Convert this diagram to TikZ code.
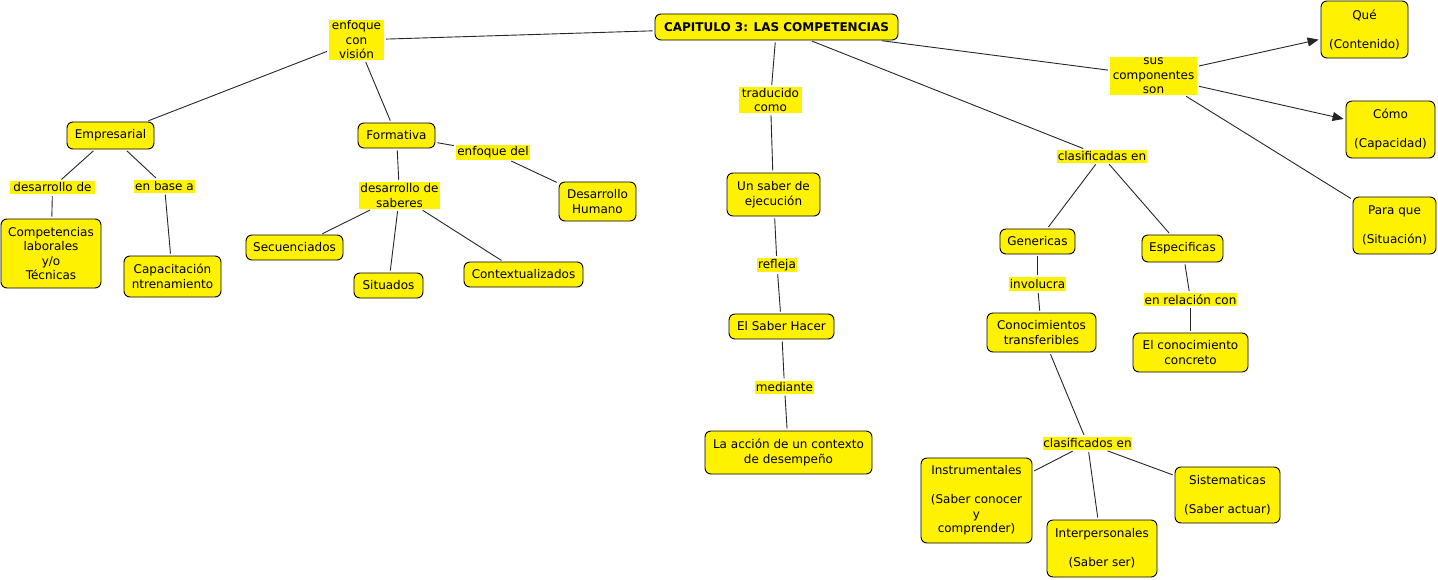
\documentclass[tikz,border=0pt]{standalone}
\usepackage{fontspec}
\setmainfont{DejaVu Sans}
\usetikzlibrary{arrows.meta}
\begin{document}
\begin{tikzpicture}[x=1pt,y=-1pt,
  txt/.style={font=\fontsize{12}{14.5}\selectfont, text=black, align=center, inner sep=0pt},
  concept/.style={txt, draw=black, fill=yellow, rounded corners=6pt, line width=0.9pt},
  lbl/.style={txt, fill=yellow},
  link/.style={draw=black!85, line width=0.9pt, shorten <=2pt, shorten >=2pt},
  arr/.style={link, -{Triangle[length=11pt,width=9pt]}}]
\useasboundingbox (0,0) rectangle (1438,579);
% concepts
\node[concept, minimum width=243pt, minimum height=26pt] (cap) at (776.5,27) {\textbf{CAPITULO 3: LAS COMPETENCIAS}};
\node[concept, minimum width=87pt, minimum height=27pt] (emp) at (110.5,135.5) {Empresarial};
\node[concept, minimum width=77pt, minimum height=25pt] (form) at (396.5,135.5) {Formativa};
\node[concept, minimum width=77pt, minimum height=39pt] (dh) at (597.5,201.5) {Desarrollo\\Humano};
\node[concept, minimum width=97pt, minimum height=25pt] (sec) at (294.5,247.5) {Secuenciados};
\node[concept, minimum width=69pt, minimum height=25pt] (sit) at (388.5,285.5) {Situados};
\node[concept, minimum width=119pt, minimum height=25pt] (ctx) at (523.5,274.5) {Contextualizados};
\node[concept, minimum width=100pt, minimum height=69pt] (comp) at (51,253.5) {Competencias\\laborales\\y/o\\Técnicas};
\node[concept, minimum width=97pt, minimum height=41pt] (capac) at (172.5,276.5) {Capacitación\\ntrenamiento};
\node[concept, minimum width=93pt, minimum height=43pt] (usab) at (773.5,194.5) {Un saber de\\ejecución};
\node[concept, minimum width=105pt, minimum height=25pt] (esh) at (781.5,326.5) {El Saber Hacer};
\node[concept, minimum width=167pt, minimum height=43pt] (acc) at (788.5,452.5) {La acción de un contexto\\de desempeño};
\node[concept, minimum width=87pt, minimum height=57pt] (que) at (1364.5,29.5) {Qué\\[14.5pt](Contenido)};
\node[concept, minimum width=89pt, minimum height=57pt] (como) at (1390.5,129.5) {Cómo\\[14.5pt](Capacidad)};
\node[concept, minimum width=83pt, minimum height=57pt] (para) at (1394.5,225.5) {Para que\\[14.5pt](Situación)};
\node[concept, minimum width=75pt, minimum height=25pt] (gen) at (1037.5,241.5) {Genericas};
\node[concept, minimum width=81pt, minimum height=27pt] (esp) at (1182.5,248.5) {Especificas};
\node[concept, minimum width=109pt, minimum height=39pt] (conoc) at (1041.5,332.5) {Conocimientos\\transferibles};
\node[concept, minimum width=115pt, minimum height=39pt] (econ) at (1190.5,352.5) {El conocimiento\\concreto};
\node[concept, minimum width=111pt, minimum height=85pt] (instr) at (976.5,500.5) {Instrumentales\\[14.5pt](Saber conocer\\y\\comprender)};
\node[concept, minimum width=110pt, minimum height=57pt] (inter) at (1102,548.5) {Interpersonales\\[14.5pt](Saber ser)};
\node[concept, minimum width=105pt, minimum height=56pt] (sist) at (1227.5,495) {Sistematicas\\[14.5pt](Saber actuar)};
% linking phrases
\node[lbl, minimum width=55pt, minimum height=40pt] (evis) at (356.5,40) {enfoque\\con\\visión};
\node[lbl, minimum width=74pt, minimum height=15pt] (edel) at (493,152.5) {enfoque del};
\node[lbl, minimum width=81pt, minimum height=27pt] (dsab) at (399.5,195.5) {desarrollo de\\saberes};
\node[lbl, minimum width=85pt, minimum height=13pt] (dde) at (52.5,187.5) {desarrollo de};
\node[lbl, minimum width=61pt, minimum height=13pt] (eba) at (164.5,186) {en base a};
\node[lbl, minimum width=63pt, minimum height=26pt] (trad) at (770.5,100) {traducido\\como};
\node[lbl, minimum width=40pt, minimum height=14pt] (refl) at (777,265) {refleja};
\node[lbl, minimum width=59pt, minimum height=13pt] (med) at (784.5,387) {mediante};
\node[lbl, minimum width=87pt, minimum height=38pt] (sus) at (1153.5,76) {sus\\componentes\\son};
\node[lbl, minimum width=90pt, minimum height=13pt] (clas) at (1102,156) {clasificadas en};
\node[lbl, minimum width=57pt, minimum height=14pt] (inv) at (1037.5,284) {involucra};
\node[lbl, minimum width=93pt, minimum height=13pt] (erel) at (1190.5,299.5) {en relación con};
\node[lbl, minimum width=89pt, minimum height=13pt] (clasd) at (1087.5,443.5) {clasificados en};
% connectors
\draw[link] (cap) -- (evis);
\draw[link] (evis) -- (emp);
\draw[link] (evis) -- (form);
\draw[link] (form) -- (edel);
\draw[link] (edel) -- (dh);
\draw[link] (form) -- (dsab);
\draw[link] (dsab) -- (sec);
\draw[link] (dsab) -- (sit);
\draw[link] (dsab) -- (ctx);
\draw[link] (emp) -- (dde);
\draw[link] (emp) -- (eba);
\draw[link] (dde) -- (comp);
\draw[link] (eba) -- (capac);
\draw[link] (cap) -- (trad);
\draw[link] (trad) -- (usab);
\draw[link] (usab) -- (refl);
\draw[link] (refl) -- (esh);
\draw[link] (esh) -- (med);
\draw[link] (med) -- (acc);
\draw[link] (cap) -- (sus);
\draw[arr] (sus) -- (que);
\draw[arr] (sus) -- (como);
\draw[link] (sus) -- (para);
\draw[link] (cap) -- (clas);
\draw[link] (clas) -- (gen);
\draw[link] (clas) -- (esp);
\draw[link] (gen) -- (inv);
\draw[link] (inv) -- (conoc);
\draw[link] (esp) -- (erel);
\draw[link] (erel) -- (econ);
\draw[link] (conoc) -- (clasd);
\draw[link] (clasd) -- (instr);
\draw[link] (clasd) -- (inter);
\draw[link] (clasd) -- (sist);
\end{tikzpicture}
\end{document}
